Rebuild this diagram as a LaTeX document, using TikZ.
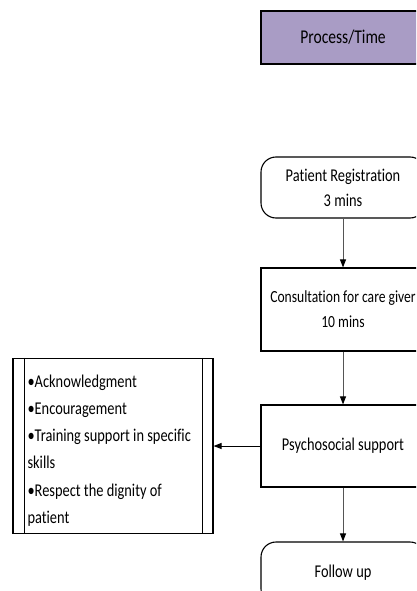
\documentclass[tikz,border=0pt]{standalone}
\usepackage{fontspec}
\setmainfont{Carlito}[FakeStretch=0.8,Ligatures={NoCommon}]
\usetikzlibrary{arrows.meta}
\definecolor{procfill}{RGB}{169,156,197}
\definecolor{flowgray}{RGB}{85,85,85}
\begin{document}
\begin{tikzpicture}[x=1pt,y=-1pt,every node/.style={draw=black,line width=1.1pt,minimum width=164pt,align=center,inner sep=2pt,font=\fontsize{18}{25}\selectfont},
term/.style={rounded corners=15pt,minimum height=61pt},procbox/.style={minimum height=83pt},
flow/.style={draw=flowgray,line width=1pt,-{Triangle[length=8pt,width=6pt,color=black]}}]
\clip (0,0) rectangle (416,591);
\node[fill=procfill,minimum height=53pt,font=\fontsize{19.5}{24}\selectfont] (head) at (343,37.5) {Process/Time};
\node[term] (reg) at (343,187.5) {Patient Registration\\3 mins};
\node[procbox,font=\fontsize{17}{25}\selectfont] (cons) at (343,309.5) {Consultation for care giver\\10 mins};
\node[procbox,minimum height=82pt] (psy) at (343,446) {Psychosocial support};
\node[term,minimum height=62pt] (fol) at (343,573) {Follow up};
% list of supports
\node[minimum width=200pt,minimum height=175pt] (list) at (113,446) {};
\draw[line width=0.8pt] ([xshift=12pt]list.north west)--([xshift=12pt]list.south west);\draw[line width=0.8pt] ([xshift=-11pt]list.north east)--([xshift=-11pt]list.south east);
\node[draw=none,minimum width=0pt,inner sep=0pt,anchor=north west,align=left,font=\fontsize{18}{27.3}\selectfont] (items) at (27,374) {\textbullet Acknowledgment\\\textbullet Encouragement\\\textbullet Training support in specific\\skills\\\textbullet Respect the dignity of\\patient};
\draw[flow] (reg)--(cons);\draw[flow] (cons)--(psy);\draw[flow] (psy)--(fol);
\draw[flow,draw=black] (psy)--(list);
\end{tikzpicture}
\end{document}
